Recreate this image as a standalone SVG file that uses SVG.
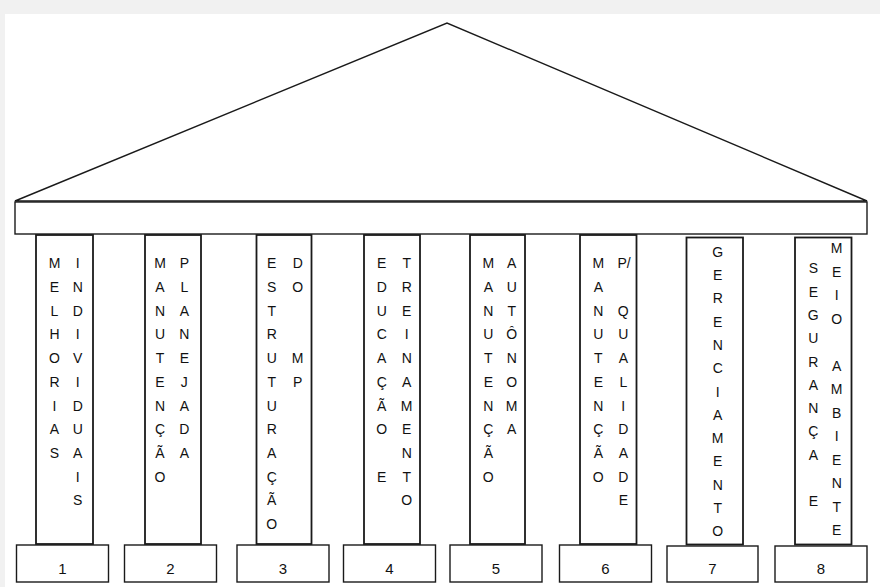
<svg xmlns="http://www.w3.org/2000/svg" width="880" height="587" viewBox="0 0 880 587">
<style>
.ln{fill:#fff;stroke:#1a1a1a;stroke-width:1.4}
.pl{fill:#fff;stroke:#1a1a1a;stroke-width:1.8}
.t{font-family:"Liberation Sans",Arial,sans-serif;font-size:14px;fill:#111;text-anchor:middle}
.n{font-family:"Liberation Sans",Arial,sans-serif;font-size:15px;fill:#111;text-anchor:middle}
</style>
<rect x="0" y="0" width="880" height="587" fill="#f1f1f1"/>
<rect x="5" y="14" width="875" height="573" fill="#fff"/>
<g id="roof">
<polygon class="ln" points="15,201 447,23 867,201"/>
</g>
<g id="beam">
<rect class="ln" x="15" y="202" width="852" height="32"/>
</g>
<g id="connectors"></g>
<g id="pillar-1">
<rect class="pl" x="36" y="235" width="57" height="309"/>
<text class="t" y="268.3"><tspan x="54.5">M</tspan><tspan x="54.5" dy="23.7">E</tspan><tspan x="54.5" dy="23.7">L</tspan><tspan x="54.5" dy="23.7">H</tspan><tspan x="54.5" dy="23.7">O</tspan><tspan x="54.5" dy="23.7">R</tspan><tspan x="54.5" dy="23.7">I</tspan><tspan x="54.5" dy="23.7">A</tspan><tspan x="54.5" dy="23.7">S</tspan></text>
<text class="t" y="268.3"><tspan x="77.7">I</tspan><tspan x="77.7" dy="23.7">N</tspan><tspan x="77.7" dy="23.7">D</tspan><tspan x="77.7" dy="23.7">I</tspan><tspan x="77.7" dy="23.7">V</tspan><tspan x="77.7" dy="23.7">I</tspan><tspan x="77.7" dy="23.7">D</tspan><tspan x="77.7" dy="23.7">U</tspan><tspan x="77.7" dy="23.7">A</tspan><tspan x="77.7" dy="23.7">I</tspan><tspan x="77.7" dy="23.7">S</tspan></text>
</g>
<g id="pillar-2">
<rect class="pl" x="145" y="235" width="56" height="309"/>
<text class="t" y="268.3"><tspan x="160">M</tspan><tspan x="160" dy="23.7">A</tspan><tspan x="160" dy="23.7">N</tspan><tspan x="160" dy="23.7">U</tspan><tspan x="160" dy="23.7">T</tspan><tspan x="160" dy="23.7">E</tspan><tspan x="160" dy="23.7">N</tspan><tspan x="160" dy="23.7">Ç</tspan><tspan x="160" dy="23.7">Ã</tspan><tspan x="160" dy="23.7">O</tspan></text>
<text class="t" y="268.3"><tspan x="184.3">P</tspan><tspan x="184.3" dy="23.7">L</tspan><tspan x="184.3" dy="23.7">A</tspan><tspan x="184.3" dy="23.7">N</tspan><tspan x="184.3" dy="23.7">E</tspan><tspan x="184.3" dy="23.7">J</tspan><tspan x="184.3" dy="23.7">A</tspan><tspan x="184.3" dy="23.7">D</tspan><tspan x="184.3" dy="23.7">A</tspan></text>
</g>
<g id="pillar-3">
<rect class="pl" x="256.5" y="235" width="55" height="309"/>
<text class="t" y="268.3"><tspan x="271.7">E</tspan><tspan x="271.7" dy="23.7">S</tspan><tspan x="271.7" dy="23.7">T</tspan><tspan x="271.7" dy="23.7">R</tspan><tspan x="271.7" dy="23.7">U</tspan><tspan x="271.7" dy="23.7">T</tspan><tspan x="271.7" dy="23.7">U</tspan><tspan x="271.7" dy="23.7">R</tspan><tspan x="271.7" dy="23.7">A</tspan><tspan x="271.7" dy="23.7">Ç</tspan><tspan x="271.7" dy="23.7">Ã</tspan><tspan x="271.7" dy="23.7">O</tspan></text>
<text class="t" y="268.3"><tspan x="297.7">D</tspan><tspan x="297.7" dy="23.7">O</tspan><tspan x="297.7" dy="71.1">M</tspan><tspan x="297.7" dy="23.7">P</tspan></text>
</g>
<g id="pillar-4">
<rect class="pl" x="364" y="235" width="56" height="309"/>
<text class="t" y="268.3"><tspan x="381.7">E</tspan><tspan x="381.7" dy="23.7">D</tspan><tspan x="381.7" dy="23.7">U</tspan><tspan x="381.7" dy="23.7">C</tspan><tspan x="381.7" dy="23.7">A</tspan><tspan x="381.7" dy="23.7">Ç</tspan><tspan x="381.7" dy="23.7">Ã</tspan><tspan x="381.7" dy="23.7">O</tspan><tspan x="381.7" dy="47.4">E</tspan></text>
<text class="t" y="268.3"><tspan x="406.7">T</tspan><tspan x="406.7" dy="23.7">R</tspan><tspan x="406.7" dy="23.7">E</tspan><tspan x="406.7" dy="23.7">I</tspan><tspan x="406.7" dy="23.7">N</tspan><tspan x="406.7" dy="23.7">A</tspan><tspan x="406.7" dy="23.7">M</tspan><tspan x="406.7" dy="23.7">E</tspan><tspan x="406.7" dy="23.7">N</tspan><tspan x="406.7" dy="23.7">T</tspan><tspan x="406.7" dy="23.7">O</tspan></text>
</g>
<g id="pillar-5">
<rect class="pl" x="470" y="235" width="55" height="309"/>
<text class="t" y="268.3"><tspan x="488.3">M</tspan><tspan x="488.3" dy="23.7">A</tspan><tspan x="488.3" dy="23.7">N</tspan><tspan x="488.3" dy="23.7">U</tspan><tspan x="488.3" dy="23.7">T</tspan><tspan x="488.3" dy="23.7">E</tspan><tspan x="488.3" dy="23.7">N</tspan><tspan x="488.3" dy="23.7">Ç</tspan><tspan x="488.3" dy="23.7">Ã</tspan><tspan x="488.3" dy="23.7">O</tspan></text>
<text class="t" y="268.3"><tspan x="511.7">A</tspan><tspan x="511.7" dy="23.7">U</tspan><tspan x="511.7" dy="23.7">T</tspan><tspan x="511.7" dy="23.7">Ô</tspan><tspan x="511.7" dy="23.7">N</tspan><tspan x="511.7" dy="23.7">O</tspan><tspan x="511.7" dy="23.7">M</tspan><tspan x="511.7" dy="23.7">A</tspan></text>
</g>
<g id="pillar-6">
<rect class="pl" x="580" y="235" width="56.5" height="309"/>
<text class="t" y="268.3"><tspan x="598.3">M</tspan><tspan x="598.3" dy="23.7">A</tspan><tspan x="598.3" dy="23.7">N</tspan><tspan x="598.3" dy="23.7">U</tspan><tspan x="598.3" dy="23.7">T</tspan><tspan x="598.3" dy="23.7">E</tspan><tspan x="598.3" dy="23.7">N</tspan><tspan x="598.3" dy="23.7">Ç</tspan><tspan x="598.3" dy="23.7">Ã</tspan><tspan x="598.3" dy="23.7">O</tspan></text>
<text class="t" y="268.3"><tspan x="624">P/</tspan><tspan x="623.3" dy="47.4">Q</tspan><tspan x="623.3" dy="23.7">U</tspan><tspan x="623.3" dy="23.7">A</tspan><tspan x="623.3" dy="23.7">L</tspan><tspan x="623.3" dy="23.7">I</tspan><tspan x="623.3" dy="23.7">D</tspan><tspan x="623.3" dy="23.7">A</tspan><tspan x="623.3" dy="23.7">D</tspan><tspan x="623.3" dy="23.7">E</tspan></text>
</g>
<g id="pillar-7">
<rect class="pl" x="686.5" y="237.5" width="56.5" height="307"/>
<text class="t" y="256.7"><tspan x="717.7">G</tspan><tspan x="717.7" dy="23.3">E</tspan><tspan x="717.7" dy="23.3">R</tspan><tspan x="717.7" dy="23.3">E</tspan><tspan x="717.7" dy="23.3">N</tspan><tspan x="717.7" dy="23.3">C</tspan><tspan x="717.7" dy="23.3">I</tspan><tspan x="717.7" dy="23.3">A</tspan><tspan x="717.7" dy="23.3">M</tspan><tspan x="717.7" dy="23.3">E</tspan><tspan x="717.7" dy="23.3">N</tspan><tspan x="717.7" dy="23.3">T</tspan><tspan x="717.7" dy="23.3">O</tspan></text>
</g>
<g id="pillar-8">
<rect class="pl" x="795" y="237.5" width="56.5" height="307"/>
<text class="t" y="273.3"><tspan x="813.3">S</tspan><tspan x="813.3" dy="23.3">E</tspan><tspan x="813.3" dy="23.3">G</tspan><tspan x="813.3" dy="23.3">U</tspan><tspan x="813.3" dy="23.3">R</tspan><tspan x="813.3" dy="23.3">A</tspan><tspan x="813.3" dy="23.3">N</tspan><tspan x="813.3" dy="23.3">Ç</tspan><tspan x="813.3" dy="23.3">A</tspan><tspan x="813.3" dy="46.6">E</tspan></text>
<text class="t" y="253.3"><tspan x="836.7">M</tspan><tspan x="836.7" dy="23.5">E</tspan><tspan x="836.7" dy="23.5">I</tspan><tspan x="836.7" dy="23.5">O</tspan><tspan x="836.7" dy="47">A</tspan><tspan x="836.7" dy="23.5">M</tspan><tspan x="836.7" dy="23.5">B</tspan><tspan x="836.7" dy="23.5">I</tspan><tspan x="836.7" dy="23.5">E</tspan><tspan x="836.7" dy="23.5">N</tspan><tspan x="836.7" dy="23.5">T</tspan><tspan x="836.7" dy="23.5">E</tspan></text>
</g>
<g id="base-1"><rect class="ln" x="16.5" y="545" width="92" height="37"/><text class="n" x="62.5" y="573.5">1</text></g>
<g id="base-2"><rect class="ln" x="124.5" y="545" width="92" height="37"/><text class="n" x="170.5" y="573.5">2</text></g>
<g id="base-3"><rect class="ln" x="237" y="545" width="92" height="37"/><text class="n" x="283" y="573.5">3</text></g>
<g id="base-4"><rect class="ln" x="343.5" y="545" width="92" height="37"/><text class="n" x="389.5" y="573.5">4</text></g>
<g id="base-5"><rect class="ln" x="450" y="545" width="92" height="37"/><text class="n" x="496" y="573.5">5</text></g>
<g id="base-6"><rect class="ln" x="559.5" y="545" width="92" height="37"/><text class="n" x="605.5" y="573.5">6</text></g>
<g id="base-7"><rect class="ln" x="667" y="546" width="91" height="36"/><text class="n" x="712.5" y="573.5">7</text></g>
<g id="base-8"><rect class="ln" x="775" y="546" width="92" height="36"/><text class="n" x="821" y="573.5">8</text></g>
</svg>
